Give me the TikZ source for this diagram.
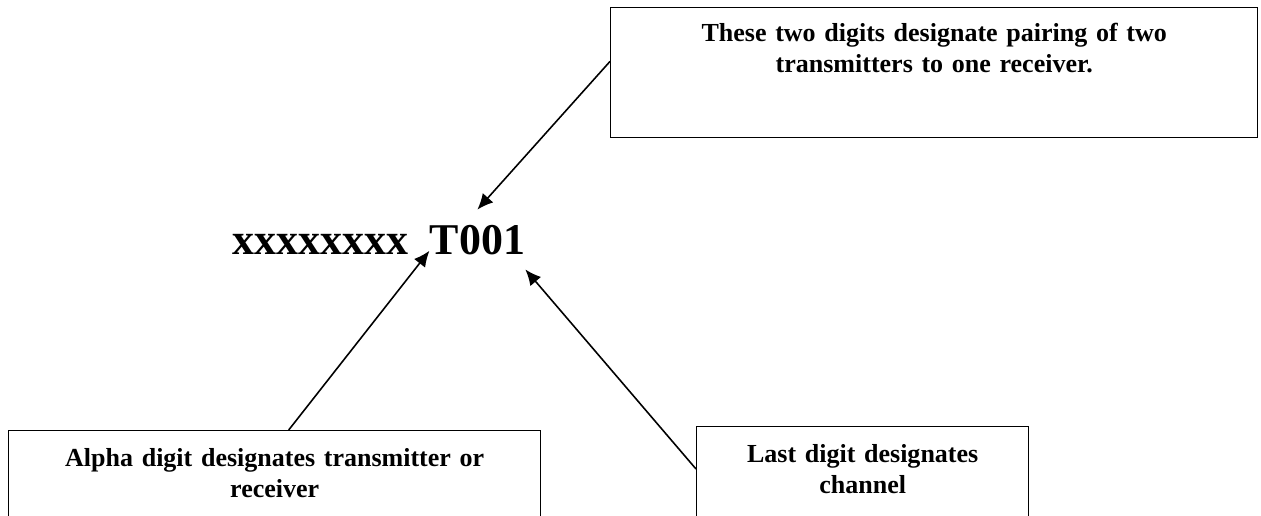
\documentclass[tikz,border=0pt]{standalone}
\usepackage{fontspec}
\setmainfont{Liberation Serif}
\usetikzlibrary{positioning,arrows.meta}

\tikzset{
    note/.style={rectangle, draw, line width=0.8pt, inner xsep=0pt, align=center,
        font=\bfseries\fontsize{14.8}{17.5}\selectfont},
    bigcode/.style={inner xsep=0pt, inner ysep=0pt, font=\bfseries\fontsize{25}{30}\selectfont},
    pointer/.style={-{Latex[length=9pt,width=8pt]}, line width=0.9pt}
}

\begin{document}
\begin{tikzpicture}
    \clip (0,0) rectangle (25.22,10.3);

    \node at (12.2,10.16) [note, anchor=north west, text width=12.94cm, inner ysep=8.8pt, text depth=46pt] (pair) {These two digits designate pairing of two\\transmitters to one receiver.};
    \node at (0.16,1.7) [note, anchor=north west, text width=10.64cm, inner ysep=10.2pt, text depth=60pt] (alpha) {Alpha digit designates transmitter or\\receiver};
    \node at (13.92,1.78) [note, anchor=north west, text width=6.64cm, inner ysep=10.2pt, text depth=60pt] (last) {Last digit designates\\channel};

    \node at (4.64,5.2) [bigcode, anchor=base west] (xs) {xxxxxxxx};
    \node [bigcode, inner ysep=9pt, base right=0.42cm of xs] (tag) {T001};

    \draw[pointer] (pair.178) -- (tag.north);
    \draw[pointer] ([xshift=0.28cm]alpha.north) -- (tag.192);
    \draw[pointer] ([yshift=-0.86cm]last.north west) -- (tag.329);
\end{tikzpicture}
\end{document}
